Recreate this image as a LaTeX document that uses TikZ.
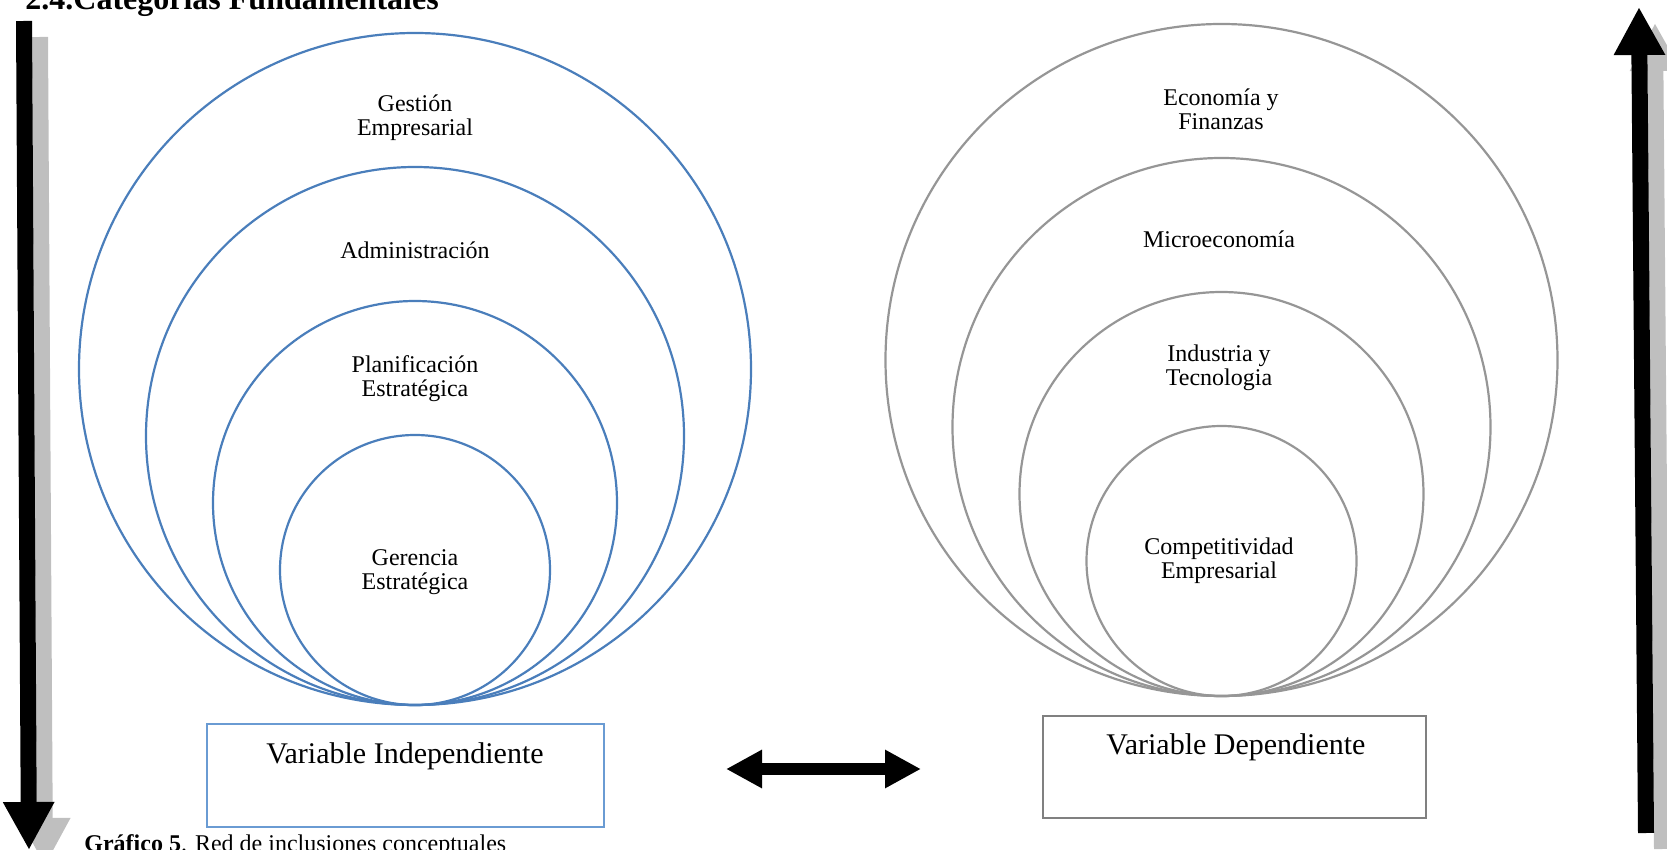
\documentclass[tikz,border=0pt]{standalone}
\usepackage{fontspec}
\setmainfont{Liberation Serif}
\usetikzlibrary{arrows.meta}
\definecolor{ringblue}{HTML}{4A7EBB}
\definecolor{ringgray}{HTML}{969696}
\definecolor{boxblue}{HTML}{6A9BD3}
\definecolor{boxgray}{HTML}{808080}
\definecolor{shadegray}{HTML}{BFBFBF}
\tikzset{>=latex}

\begin{document}
\begin{tikzpicture}[x=0.5pt, y=-0.5pt,
  ring/.style={circle, draw, line width=1.1pt, inner sep=0pt},
  lbl/.style={align=center, font=\fontsize{12}{12}\selectfont},
  varbox/.style={draw, line width=1.1pt, inner sep=0pt},
  vartext/.style={anchor=base, font=\fontsize{15}{15}\selectfont},
  bigarrow/.style={line width=8pt, -{Triangle[width=24pt,length=24pt]}},
  dblarrow/.style={line width=6pt, {Triangle[width=18pt,length=18pt]}-{Triangle[width=18pt,length=18pt]}}]
\useasboundingbox (0,0) rectangle (1667,850);
% nested circles
\foreach \r/\n in {336/a,269/b,202/c,135/d}{
  \node[ring, ringblue, minimum size=\r pt] (indep-\n) at (415,{705-\r}) {};
  \node[ring, ringgray, minimum size=\r pt] (dep-\n) at (1221.5,{696-\r}) {};
}
\node[lbl] (gestion) at (415,118) {Gestión\\Empresarial};
\node[lbl] (admin) at (415,250) {Administración};
\node[lbl] (planif) at (415,379) {Planificación\\Estratégica};
\node[lbl] (gerencia) at (415,572) {Gerencia\\Estratégica};
\node[lbl] (econ) at (1221,109) {Economía y\\Finanzas};
\node[lbl] (micro) at (1219,239) {Microeconomía};
\node[lbl] (indus) at (1219,368) {Industria y\\Tecnologia};
\node[lbl] (compet) at (1219,561) {Competitividad\\Empresarial};
% variable boxes
\node[varbox, boxblue, minimum width=198.5pt, minimum height=51.5pt] (vi) at (405.5,775.5) {};
\node[vartext] (vi-text) at (405,763) {Variable Independiente};
\node[varbox, boxgray, minimum width=191.5pt, minimum height=51pt] (vd) at (1234.5,767) {};
\node[vartext] (vd-text) at (1236,754) {Variable Dependiente};
% arrows
\coordinate (dbl-l) at (726,769);
\coordinate (dbl-r) at (921,769);
\draw[dblarrow] (dbl-l) -- (dbl-r);
\coordinate (down-top) at (24,21);
\coordinate (down-tip) at (29,850);
\draw[bigarrow, shadegray] ([shift={(16,16)}]down-top) -- ([shift={(16,16)}]down-tip);
\draw[bigarrow] (down-top) -- (down-tip);
\coordinate (up-foot) at (1646,833);
\coordinate (up-tip) at (1639,7);
\draw[bigarrow, shadegray] ([shift={(16,16)}]up-foot) -- ([shift={(16,16)}]up-tip);
\draw[bigarrow] (up-foot) -- (up-tip);
% heading and caption
\node[anchor=base west, inner sep=0pt, font=\fontsize{16}{16}\bfseries\selectfont] (heading) at (25,10) {2.4.Categorías Fundamentales};
\node[anchor=base west, inner sep=0pt, font=\fontsize{12}{12}\selectfont] (caption) at (84,851) {\textbf{Gráfico 5}. Red de inclusiones conceptuales};
\end{tikzpicture}
\end{document}
